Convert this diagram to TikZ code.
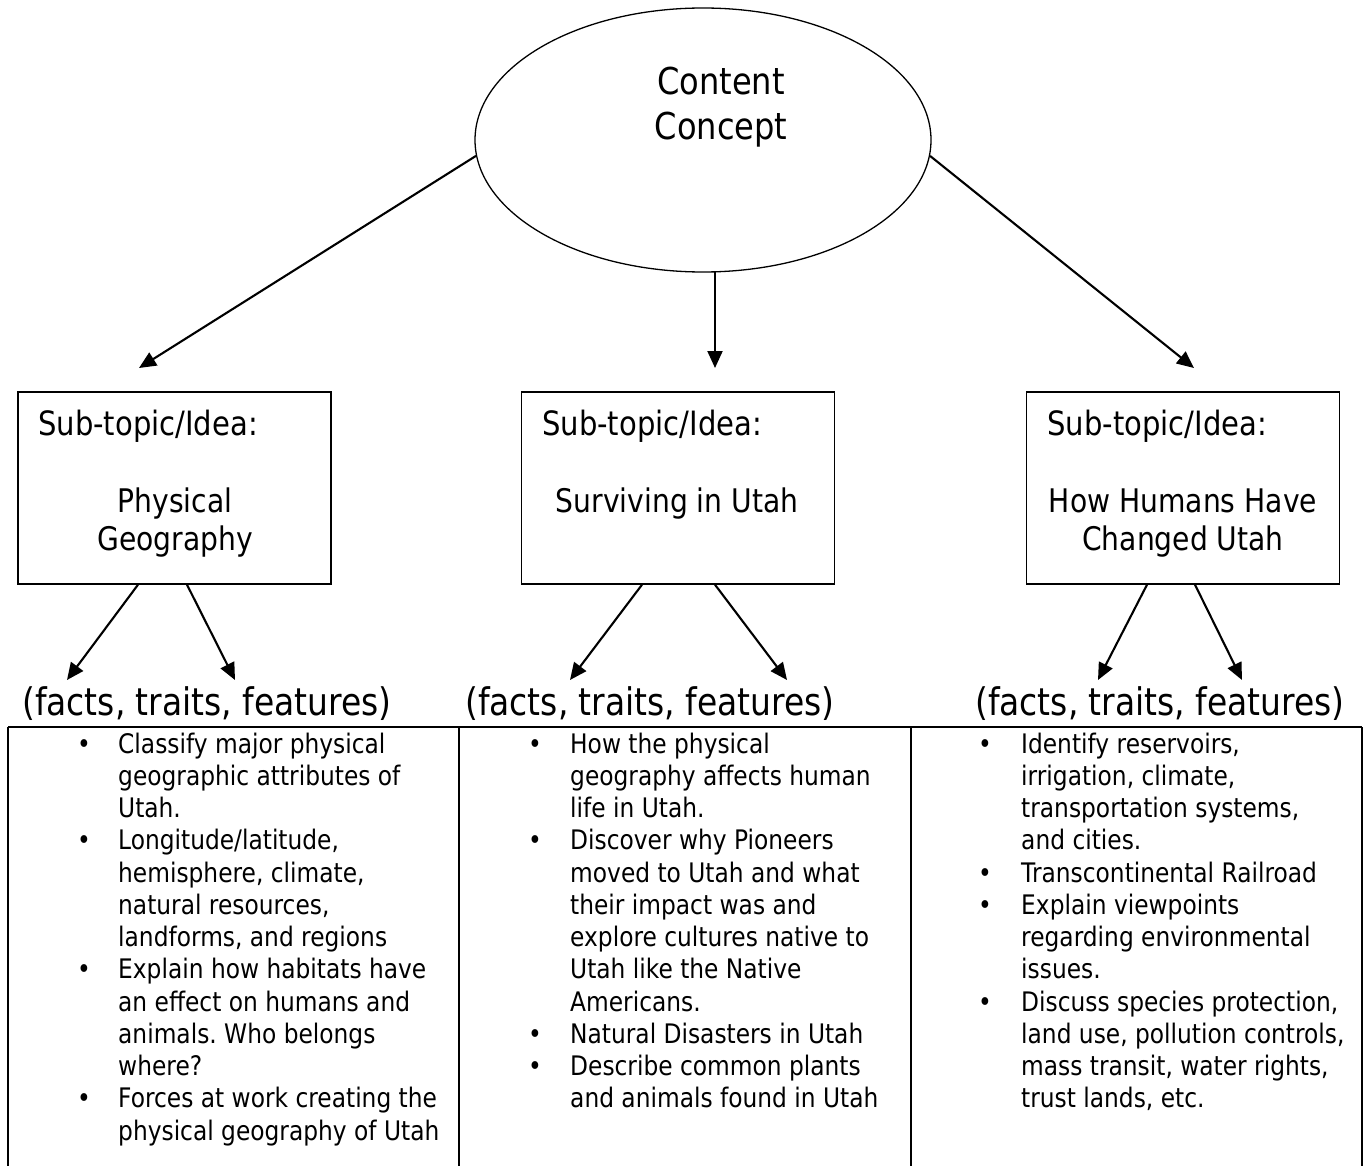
\documentclass[tikz,border=0pt]{standalone}
\usepackage{fontspec}
\setmainfont{DejaVu Sans}[FakeStretch=0.867]
\usetikzlibrary{arrows.meta,shapes.geometric,calc}
\frenchspacing
\tikzset{
  arr/.style={line width=2.1pt,-{Triangle[length=17pt,width=15pt]}},
  subbox/.style={draw,line width=1.4pt,minimum width=313pt,minimum height=192pt,inner sep=0pt},
  subhead/.style={anchor=base west,inner sep=0pt,font=\fontsize{33.5}{38}\selectfont},
  subtitle/.style={anchor=base,align=center,inner sep=0pt,font=\fontsize{32.5}{38}\selectfont},
  factst/.style={anchor=base west,inner sep=0pt,font=\fontsize{38}{44}\selectfont},
  lst/.style={anchor=base west,inner sep=0pt,font=\fontsize{26.9}{32.25}\selectfont},
  tbl/.style={line width=1.8pt}
}
\begin{document}
\begin{tikzpicture}[x=1pt,y=-1pt]
\useasboundingbox (0,0) rectangle (1364,1166);
% central concept
\node[draw,ellipse,line width=1.3pt,minimum width=456pt,minimum height=264pt,inner sep=0pt] (cc) at (703,140) {};
\node[anchor=base,align=center,inner sep=0pt,font=\fontsize{37}{45}\selectfont] (cct) at (721,140) {Content\\Concept};
% sub boxes
\node[subbox] (b1) at (174.5,488) {};
\node[subbox] (b2) at (678,488) {};
\node[subbox] (b3) at (1183,488) {};
\node[subhead] (h1) at (38,435) {Sub-topic/Idea:};
\node[subhead] (h2) at (542,435) {Sub-topic/Idea:};
\node[subhead] (h3) at (1047,435) {Sub-topic/Idea:};
\node[subtitle] (s1) at (175,550) {Physical\\Geography};
\node[subtitle] (s2) at (677,512) {Surviving in Utah};
\node[subtitle] (s3) at (1183,550) {How Humans Have\\Changed Utah};
% main arrows
\coordinate (tL) at (139,368);
\coordinate (tM) at (715,368);
\coordinate (tR) at (1194,368);
\draw[arr] (cc.184) -- (tL);
\draw[arr] (tM |- cc.275) -- (tM);
\draw[arr] (cc.356) -- (tR);
% sub arrows
\coordinate (t1a) at (67,680);
\coordinate (t1b) at (235,680);
\coordinate (t2a) at (570,680);
\coordinate (t2b) at (787,680);
\coordinate (t3a) at (1098,680);
\coordinate (t3b) at (1242,680);
\draw[arr] ($(b1.south)+(-36.5,0)$) -- (t1a);
\draw[arr] ($(b1.south)+(12.5,0)$) -- (t1b);
\draw[arr] ($(b2.south)+(-36,0)$) -- (t2a);
\draw[arr] ($(b2.south)+(37,0)$) -- (t2b);
\draw[arr] ($(b3.south)+(-36,0)$) -- (t3a);
\draw[arr] ($(b3.south)+(12,0)$) -- (t3b);
% facts labels
\node[factst] (f1) at (22,715) {(facts, traits, features)};
\node[factst] (f2) at (465,715) {(facts, traits, features)};
\node[factst] (f3) at (975,715) {(facts, traits, features)};
% table
\draw[tbl] (8,727) -- (1362,727);
\draw[tbl] (8,727) -- (8,1170);
\draw[tbl] (459,727) -- (459,1170);
\draw[tbl] (911,727) -- (911,1170);
\draw[tbl] (1362,727) -- (1362,1170);
% column 1
\foreach \t [count=\i from 0] in {{Classify major physical},{geographic attributes of},{Utah.},
  {Longitude/latitude,},{hemisphere, climate,},{natural resources,},{landforms, and regions},
  {Explain how habitats have},{an effect on humans and},{animals. Who belongs},{where?},
  {Forces at work creating the},{physical geography of Utah}}
  \node[lst] (a\i) at (118,{753+32.25*\i}) {\t};
\foreach \i in {0,3,7,11}
  \node[lst] (ab\i) at (77,{753+32.25*\i}) {\textbullet};
% column 2
\foreach \t [count=\i from 0] in {{How the physical},{geography affects human},{life in Utah.},
  {Discover why Pioneers},{moved to Utah and what},{their impact was and},{explore cultures native to},
  {Utah like the Native},{Americans.},{Natural Disasters in Utah},
  {Describe common plants},{and animals found in Utah}}
  \node[lst] (m\i) at (570,{753+32.25*\i}) {\t};
\foreach \i in {0,3,9,10}
  \node[lst] (mb\i) at (528,{753+32.25*\i}) {\textbullet};
% column 3
\foreach \t [count=\i from 0] in {{Identify reservoirs,},{irrigation, climate,},{transportation systems,},
  {and cities.},{Transcontinental Railroad},{Explain viewpoints},{regarding environmental},
  {issues.},{Discuss species protection,},{land use, pollution controls,},
  {mass transit, water rights,},{trust lands, etc.}}
  \node[lst] (r\i) at (1021,{753+32.25*\i}) {\t};
\foreach \i in {0,4,5,8}
  \node[lst] (rb\i) at (978,{753+32.25*\i}) {\textbullet};
\end{tikzpicture}
\end{document}
